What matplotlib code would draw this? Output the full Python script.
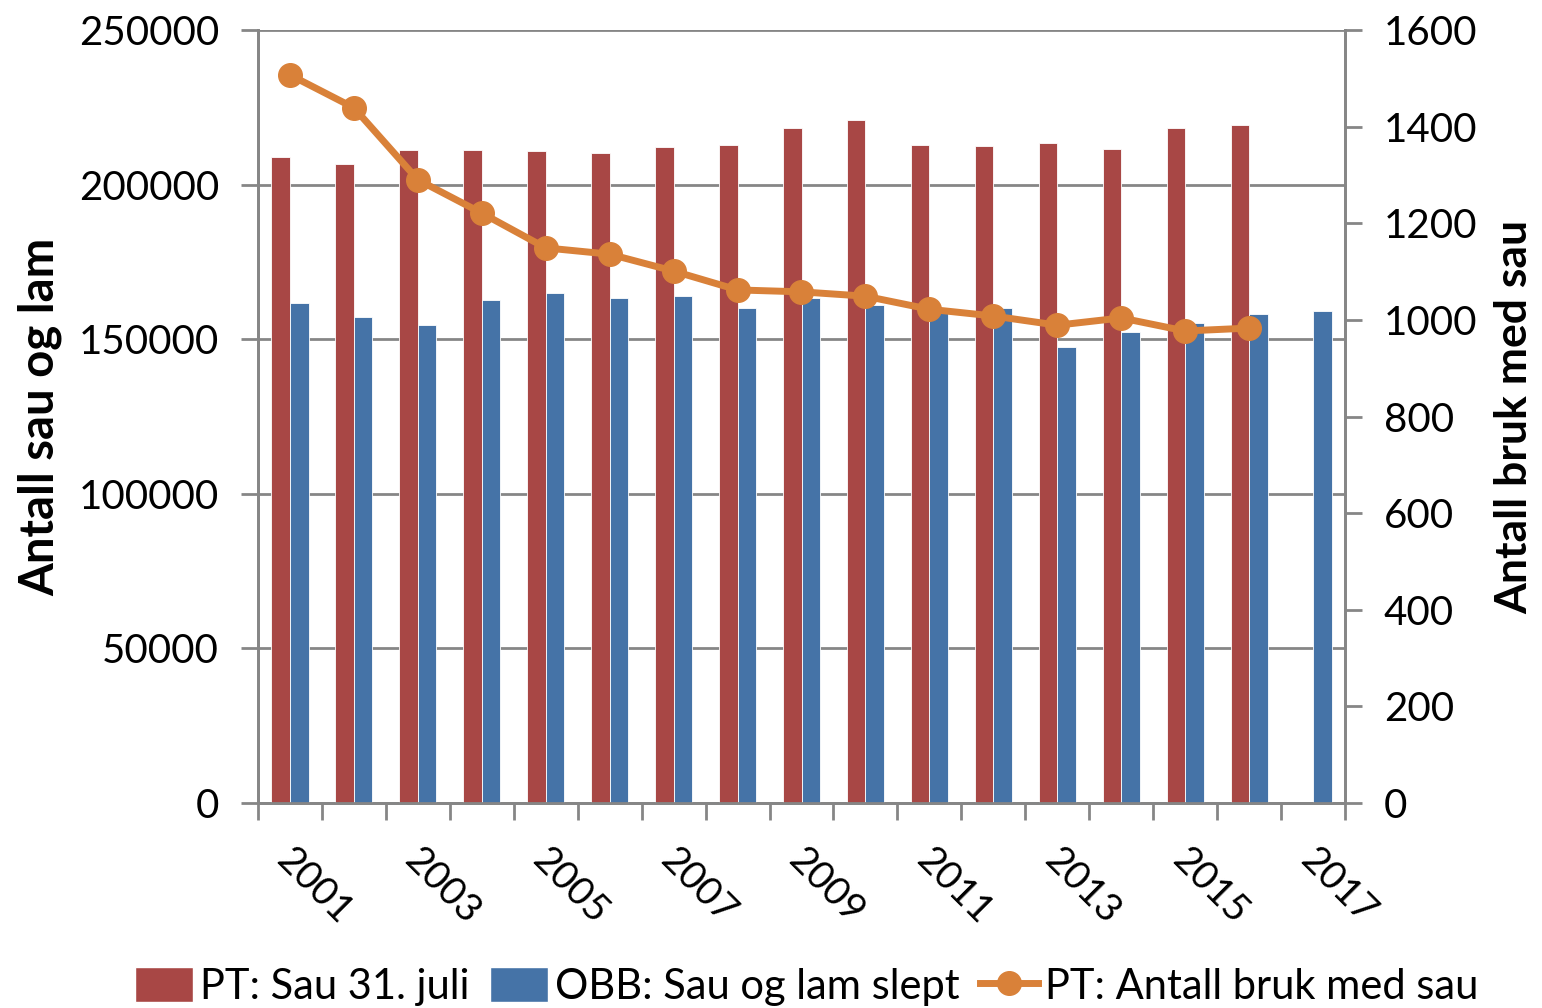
import matplotlib
matplotlib.use("Agg")
import matplotlib.pyplot as plt
import numpy as np
from matplotlib.lines import Line2D
from matplotlib.patches import Patch

years = [str(y) for y in range(2001, 2018)]
pt_sau = [208900, 206700, 211200, 211200, 210900, 210200, 212200, 212800, 218300,
          220900, 212800, 212500, 213500, 211500, 218300, 219300, None]
obb_sau = [161700, 157200, 154600, 162700, 164900, 163300, 164000, 160100, 163300,
           161100, 158500, 160100, 147500, 152300, 155200, 158200, 159100]
pt_bruk = [1507, 1439, 1290, 1221, 1149, 1136, 1101, 1062, 1058, 1049, 1022, 1008,
           989, 1004, 977, 983, None]
tick_labels = ["2001", "2003", "2005", "2007", "2009", "2011", "2013", "2015", "2017"]

red = "#A84745"
blue = "#4573A7"
orange = "#D98139"
gray = "#868686"

plt.rcParams['font.family'] = ['Lato', 'DejaVu Sans']

fig = plt.figure(figsize=(15.42, 10.08), dpi=100)
ax = fig.add_axes([258/1542, 1-803/1008, (1345-258)/1542, (803-30)/1008])
ax2 = ax.twinx()

x = np.arange(len(years))
w = 0.29
red_x = [xi - w/2 for xi, v in zip(x, pt_sau) if v is not None]
red_v = [v for v in pt_sau if v is not None]
ax.bar(red_x, red_v, width=w, color=red, edgecolor="white", linewidth=0.6, zorder=3)
ax.bar(x + w/2, obb_sau, width=w, color=blue, edgecolor="white", linewidth=0.6, zorder=3)

lx = [xi for xi, v in zip(x, pt_bruk) if v is not None]
lv = [v for v in pt_bruk if v is not None]
ax2.plot(lx, lv, color=orange, lw=5, marker="o", ms=17, zorder=5)

ax.set_xlim(-0.5, len(years) - 0.5)
ax.set_ylim(0, 250000)
ax2.set_ylim(0, 1600)
ax.set_yticks(np.arange(0, 250001, 50000))
ax2.set_yticks(np.arange(0, 1601, 200))
ax.grid(axis="y", color=gray, lw=2, zorder=0)
ax.set_axisbelow(True)

for a in (ax, ax2):
    for s in a.spines.values():
        s.set_color(gray)
        s.set_linewidth(2)
    a.spines["top"].set_visible(False)

ax.set_xticks(np.arange(-0.5, len(years) + 0.5, 1))
ax.set_xticklabels([])
ax.tick_params(axis="x", length=12, width=2, color=gray, direction="out")
ax.tick_params(axis="y", length=12, width=2, color=gray, labelsize=29, pad=16)
ax2.tick_params(axis="y", length=12, width=2, color=gray, labelsize=29, pad=16)

for i, lab in enumerate(years):
    if lab in tick_labels:
        ax.text(i + 0.08, -0.05, lab, transform=ax.get_xaxis_transform(),
                rotation=-45, rotation_mode="anchor", ha="left", va="top", fontsize=28)

ax.set_ylabel("Antall sau og lam", fontsize=34, fontweight="bold", labelpad=12)
ax2.set_ylabel("Antall bruk med sau", fontsize=32, fontweight="bold", labelpad=12)

handles = [Patch(facecolor=red, edgecolor="white"),
           Patch(facecolor=blue, edgecolor="white"),
           Line2D([0], [0], color=orange, lw=5, marker="o", ms=17)]
labels = ["PT: Sau 31. juli", "OBB: Sau og lam slept", "PT: Antall bruk med sau"]
fig.legend(handles, labels, loc="lower center", bbox_to_anchor=(0.523, -0.035), ncol=3,
           frameon=False, fontsize=30, handlelength=1.4, handletextpad=0.15,
           columnspacing=0.5, handleheight=0.9)

fig.savefig("out.png", dpi=100)
